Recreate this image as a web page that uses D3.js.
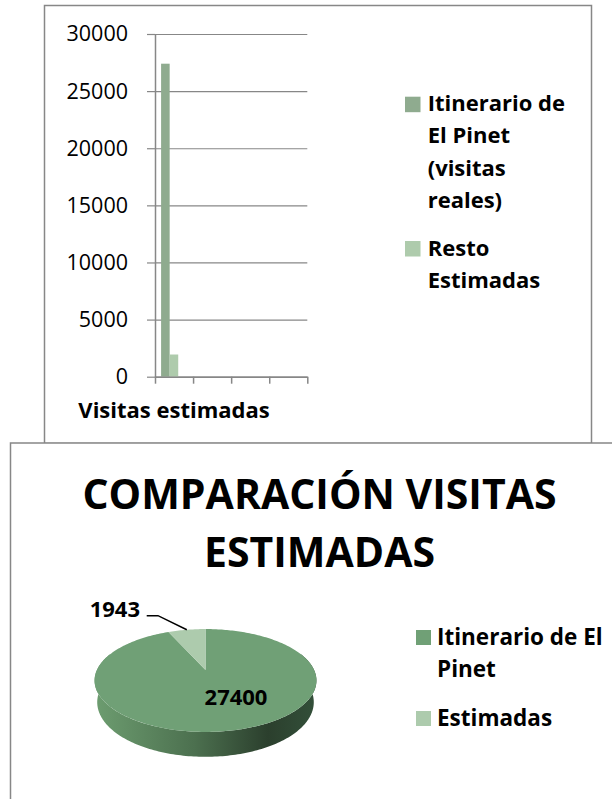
<!DOCTYPE html>
<html><head><meta charset="utf-8">
<script src="https://cdn.jsdelivr.net/npm/d3@7"></script>
<style>
body{margin:0;background:#fff}
svg{display:block}
text{font-family:'Open Sans',sans-serif;fill:#000}
</style>
</head><body>
<svg id="c" width="612" height="799"></svg>
<script>
// ---------- data ----------
const barCategories = ["Visitas estimadas", "", "", ""];
const barSeriesNames = ["Itinerario de El Pinet (visitas reales)", "Resto Estimadas"];
const itinerarioValues = [27400, null, null, null];
const restoValues = [1943, null, null, null];
const yTicks = [0, 5000, 10000, 15000, 20000, 25000, 30000];
const barLegendLines = [["Itinerario de", "El Pinet", "(visitas", "reales)"], ["Resto", "Estimadas"]];
const barColors = ["#8fab8f", "#aecbac"];

const pieTitle = ["COMPARACIÓN VISITAS", "ESTIMADAS"];
const pieLabels = ["Itinerario de El Pinet", "Estimadas"];
const pieValues = [27400, 1943];
const pieLegendLines = [["Itinerario de El", "Pinet"], ["Estimadas"]];
const pieColors = ["#70a076", "#adcbad"];

// ---------- setup ----------
const svg = d3.select("#c");
const border = "#878787";

// frames
svg.append("rect").attr("x", 44.5).attr("y", 5.5).attr("width", 547).attr("height", 438)
  .attr("fill", "#fff").attr("stroke", border).attr("stroke-width", 1.5);
svg.append("rect").attr("x", 10.5).attr("y", 443).attr("width", 640).attr("height", 400)
  .attr("fill", "#fff").attr("stroke", border).attr("stroke-width", 1.5);

// ---------- bar chart ----------
const plot = {left: 155, right: 307.3, top: 34, bottom: 376.7};
const y = d3.scaleLinear().domain([0, 30000]).range([plot.bottom, plot.top]);
const x = d3.scaleBand().domain(d3.range(barCategories.length)).range([plot.left, plot.right]).padding(0);
const xb = d3.scaleLinear().domain([0, barCategories.length]).range([plot.left, plot.right]);
const x1 = d3.scaleBand().domain(d3.range(barSeriesNames.length))
  .range([x.bandwidth() * 0.16, x.bandwidth() * 0.61]).padding(0);

// gridlines
const grid = svg.append("g").attr("transform", `translate(${plot.left},0)`)
  .call(d3.axisLeft(y).tickValues(yTicks).tickSize(-(plot.right - plot.left)).tickFormat(""));
grid.select(".domain").remove();
grid.selectAll("line").attr("stroke", border).attr("stroke-width", 1.2);

// y axis
const yAx = svg.append("g").attr("transform", `translate(${plot.left},0)`)
  .call(d3.axisLeft(y).tickValues(yTicks).tickSizeInner(8).tickSizeOuter(0).tickPadding(19).tickFormat(d3.format("d")));
yAx.select(".domain").attr("stroke", border).attr("stroke-width", 1.5);
yAx.selectAll("line").attr("stroke", border).attr("stroke-width", 1.2);
yAx.selectAll("text").attr("font-size", 21.5).attr("fill", "#000").style("font-family", "'Open Sans',sans-serif");

// bars
const seriesVals = [itinerarioValues, restoValues];
seriesVals.forEach((vals, si) => {
  svg.append("g").selectAll("rect").data(vals.map((v, i) => ({v, i})).filter(d => d.v != null))
    .join("rect")
    .attr("x", d => x(d.i) + x1(si))
    .attr("width", x1.bandwidth())
    .attr("y", d => y(d.v))
    .attr("height", d => y(0) - y(d.v))
    .attr("fill", barColors[si]);
});

// x axis
const xAx = svg.append("g").attr("transform", `translate(0,${plot.bottom})`)
  .call(d3.axisBottom(xb).ticks(barCategories.length).tickSizeInner(7).tickSizeOuter(0).tickFormat(""));
xAx.select(".domain").attr("stroke", border).attr("stroke-width", 1.5);
xAx.selectAll("line").attr("stroke", border).attr("stroke-width", 1.5);
svg.append("g").selectAll("text").data(barCategories).join("text")
  .attr("x", (d, i) => x(i) + x.bandwidth() / 2)
  .attr("y", 418.3)
  .attr("text-anchor", "middle")
  .attr("font-size", 22).attr("font-weight", "bold")
  .text(d => d);

// bar legend
const bl = [{sq: 96.7, base: 111}, {sq: 241, base: 256}];
barLegendLines.forEach((lines, i) => {
  svg.append("rect").attr("x", 405).attr("y", bl[i].sq).attr("width", 15.5).attr("height", 15.5).attr("fill", barColors[i]);
  lines.forEach((ln, j) => {
    svg.append("text").attr("x", 427.7).attr("y", bl[i].base + j * 32.4)
      .attr("font-size", 22).attr("font-weight", "bold").text(ln);
  });
});

// ---------- pie chart ----------
pieTitle.forEach((t, i) => {
  svg.append("text").attr("x", 319.5).attr("y", [509.3, 567.3][i])
    .attr("text-anchor", "middle").attr("font-size", 41).attr("font-weight", "bold").text(t);
});

const P = {cx: 205.5, cy: 670, R: 108.6, e: 27 * Math.PI / 180, D: 474, H: 24.5};
function proj(theta, r, h) {
  const X = r * Math.sin(theta), Z = r * Math.cos(theta), Y = h;
  const u = Y * Math.cos(P.e) + Z * Math.sin(P.e);
  const w = Z * Math.cos(P.e) - Y * Math.sin(P.e);
  const s = 1 / (1 + w / P.D);
  return [P.cx + X * s, P.cy - u * s];
}
const arcs = d3.pie().sort(null).startAngle(0).endAngle(2 * Math.PI)(pieValues);

const defs = svg.append("defs");
const grad = defs.append("linearGradient").attr("id", "side").attr("gradientUnits", "userSpaceOnUse")
  .attr("x1", 94).attr("y1", 0).attr("x2", 317).attr("y2", 0);
[[0, "#6d9d70"], [0.45, "#4c704f"], [0.78, "#2b3f2d"], [1, "#33503a"]].forEach(s =>
  grad.append("stop").attr("offset", s[0]).attr("stop-color", s[1]));

function sample(a0, a1, r, h) {
  const n = Math.max(2, Math.ceil(Math.abs(a1 - a0) / 0.02));
  return d3.range(n + 1).map(k => proj(a0 + (a1 - a0) * k / n, r, h));
}
const line = d3.line();
// side walls (front part)
const lo = Math.PI / 2 - 0.35, hi = 3 * Math.PI / 2 + 0.35;
arcs.forEach((a, i) => {
  const a0 = Math.max(a.startAngle, lo), a1 = Math.min(a.endAngle, hi);
  if (a1 <= a0) return;
  const pts = sample(a0, a1, P.R, 0).concat(sample(a1, a0, P.R, -P.H));
  svg.append("path").attr("d", line(pts) + "Z").attr("fill", "url(#side)");
});
// top faces
arcs.forEach((a, i) => {
  const pts = [proj(0, 0, 0)].concat(sample(a.startAngle, a.endAngle, P.R, 0));
  svg.append("path").attr("d", line(pts) + "Z").attr("fill", pieColors[i]);
});

// labels
const big = arcs[0], small = arcs[1];
svg.append("text").attr("x", 236).attr("y", 705).attr("text-anchor", "middle")
  .attr("font-size", 22).attr("font-weight", "bold").text(pieValues[0]);
const mid = (small.startAngle + small.endAngle) / 2;
const pEnd = proj(mid, P.R, 0);
svg.append("path").attr("d", line([[146.7, 615.7], [158, 615.7], pEnd]))
  .attr("fill", "none").attr("stroke", "#000").attr("stroke-width", 1.5);
svg.append("text").attr("x", 140).attr("y", 616.7).attr("text-anchor", "end")
  .attr("font-size", 22).attr("font-weight", "bold").text(pieValues[1]);

// pie legend
const pl = [{sq: 630, base: 645}, {sq: 711, base: 725.7}];
pieLegendLines.forEach((lines, i) => {
  svg.append("rect").attr("x", 416).attr("y", pl[i].sq).attr("width", 15).attr("height", 15).attr("fill", pieColors[i]);
  lines.forEach((ln, j) => {
    svg.append("text").attr("x", 437).attr("y", pl[i].base + j * 32.3)
      .attr("font-size", 22.5).attr("font-weight", "bold").text(ln);
  });
});
</script>
</body></html>
